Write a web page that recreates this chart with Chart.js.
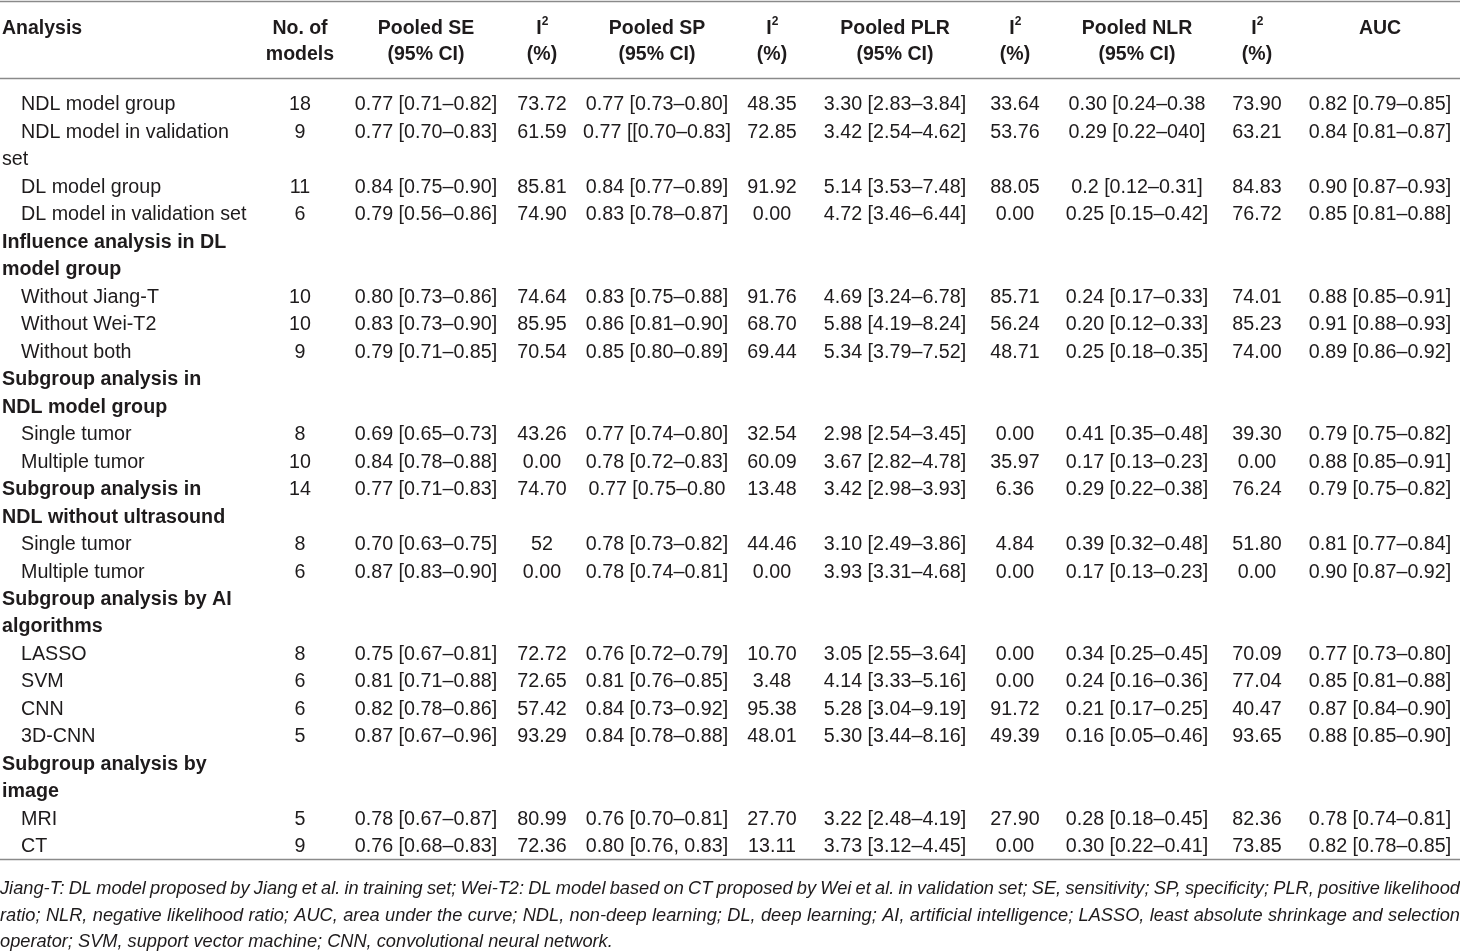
<!DOCTYPE html>
<html>
<head>
<meta charset="utf-8">
<script src="https://cdn.jsdelivr.net/npm/chart.js@4/dist/chart.umd.min.js"></script>
<style>
  html, body { margin: 0; padding: 0; background: #fff; }
  #wrap { width: 1460px; height: 951px; position: relative; }
</style>
</head>
<body>
<div id="wrap"><canvas id="myChart"></canvas></div>
<script>
// --- data ---
const headers = ['Analysis', 'No. of\nmodels', 'Pooled SE\n(95% CI)', 'I²\n(%)', 'Pooled SP\n(95% CI)', 'I²\n(%)',
  'Pooled PLR\n(95% CI)', 'I²\n(%)', 'Pooled NLR\n(95% CI)', 'I²\n(%)', 'AUC'];

// analysis column, one entry per printed line: [text, kind]  kind: 'sub' indented, 'bold' group heading, 'cont' wrapped line
const analysisLines = [
  ['NDL model group', 'sub'], ['NDL model in validation', 'sub'], ['set', 'cont'],
  ['DL model group', 'sub'], ['DL model in validation set', 'sub'],
  ['Influence analysis in DL', 'bold'], ['model group', 'bold'],
  ['Without Jiang-T', 'sub'], ['Without Wei-T2', 'sub'], ['Without both', 'sub'],
  ['Subgroup analysis in', 'bold'], ['NDL model group', 'bold'],
  ['Single tumor', 'sub'], ['Multiple tumor', 'sub'],
  ['Subgroup analysis in', 'bold'], ['NDL without ultrasound', 'bold'],
  ['Single tumor', 'sub'], ['Multiple tumor', 'sub'],
  ['Subgroup analysis by AI', 'bold'], ['algorithms', 'bold'],
  ['LASSO', 'sub'], ['SVM', 'sub'], ['CNN', 'sub'], ['3D-CNN', 'sub'],
  ['Subgroup analysis by', 'bold'], ['image', 'bold'],
  ['MRI', 'sub'], ['CT', 'sub']
];

// line on which each data row sits
const dataRowLine = [0, 1, 3, 4, 7, 8, 9, 12, 13, 14, 16, 17, 20, 21, 22, 23, 26, 27];

const nModels = ['18', '9', '11', '6', '10', '10', '9', '8', '10', '14', '8', '6', '8', '6', '6', '5', '5', '9'];
const pooledSE = ['0.77 [0.71–0.82]', '0.77 [0.70–0.83]', '0.84 [0.75–0.90]', '0.79 [0.56–0.86]', '0.80 [0.73–0.86]',
  '0.83 [0.73–0.90]', '0.79 [0.71–0.85]', '0.69 [0.65–0.73]', '0.84 [0.78–0.88]', '0.77 [0.71–0.83]', '0.70 [0.63–0.75]',
  '0.87 [0.83–0.90]', '0.75 [0.67–0.81]', '0.81 [0.71–0.88]', '0.82 [0.78–0.86]', '0.87 [0.67–0.96]', '0.78 [0.67–0.87]',
  '0.76 [0.68–0.83]'];
const i2SE = ['73.72', '61.59', '85.81', '74.90', '74.64', '85.95', '70.54', '43.26', '0.00', '74.70', '52', '0.00',
  '72.72', '72.65', '57.42', '93.29', '80.99', '72.36'];
const pooledSP = ['0.77 [0.73–0.80]', '0.77 [[0.70–0.83]', '0.84 [0.77–0.89]', '0.83 [0.78–0.87]', '0.83 [0.75–0.88]',
  '0.86 [0.81–0.90]', '0.85 [0.80–0.89]', '0.77 [0.74–0.80]', '0.78 [0.72–0.83]', '0.77 [0.75–0.80', '0.78 [0.73–0.82]',
  '0.78 [0.74–0.81]', '0.76 [0.72–0.79]', '0.81 [0.76–0.85]', '0.84 [0.73–0.92]', '0.84 [0.78–0.88]', '0.76 [0.70–0.81]',
  '0.80 [0.76, 0.83]'];
const i2SP = ['48.35', '72.85', '91.92', '0.00', '91.76', '68.70', '69.44', '32.54', '60.09', '13.48', '44.46', '0.00',
  '10.70', '3.48', '95.38', '48.01', '27.70', '13.11'];
const pooledPLR = ['3.30 [2.83–3.84]', '3.42 [2.54–4.62]', '5.14 [3.53–7.48]', '4.72 [3.46–6.44]', '4.69 [3.24–6.78]',
  '5.88 [4.19–8.24]', '5.34 [3.79–7.52]', '2.98 [2.54–3.45]', '3.67 [2.82–4.78]', '3.42 [2.98–3.93]', '3.10 [2.49–3.86]',
  '3.93 [3.31–4.68]', '3.05 [2.55–3.64]', '4.14 [3.33–5.16]', '5.28 [3.04–9.19]', '5.30 [3.44–8.16]', '3.22 [2.48–4.19]',
  '3.73 [3.12–4.45]'];
const i2PLR = ['33.64', '53.76', '88.05', '0.00', '85.71', '56.24', '48.71', '0.00', '35.97', '6.36', '4.84', '0.00',
  '0.00', '0.00', '91.72', '49.39', '27.90', '0.00'];
const pooledNLR = ['0.30 [0.24–0.38', '0.29 [0.22–040]', '0.2 [0.12–0.31]', '0.25 [0.15–0.42]', '0.24 [0.17–0.33]',
  '0.20 [0.12–0.33]', '0.25 [0.18–0.35]', '0.41 [0.35–0.48]', '0.17 [0.13–0.23]', '0.29 [0.22–0.38]', '0.39 [0.32–0.48]',
  '0.17 [0.13–0.23]', '0.34 [0.25–0.45]', '0.24 [0.16–0.36]', '0.21 [0.17–0.25]', '0.16 [0.05–0.46]', '0.28 [0.18–0.45]',
  '0.30 [0.22–0.41]'];
const i2NLR = ['73.90', '63.21', '84.83', '76.72', '74.01', '85.23', '74.00', '39.30', '0.00', '76.24', '51.80', '0.00',
  '70.09', '77.04', '40.47', '93.65', '82.36', '73.85'];
const auc = ['0.82 [0.79–0.85]', '0.84 [0.81–0.87]', '0.90 [0.87–0.93]', '0.85 [0.81–0.88]', '0.88 [0.85–0.91]',
  '0.91 [0.88–0.93]', '0.89 [0.86–0.92]', '0.79 [0.75–0.82]', '0.88 [0.85–0.91]', '0.79 [0.75–0.82]', '0.81 [0.77–0.84]',
  '0.90 [0.87–0.92]', '0.77 [0.73–0.80]', '0.85 [0.81–0.88]', '0.87 [0.84–0.90]', '0.88 [0.85–0.90]', '0.78 [0.74–0.81]',
  '0.82 [0.78–0.85]'];

const footnote = [
  'Jiang-T: DL model proposed by Jiang et al. in training set; Wei-T2: DL model based on CT proposed by Wei et al. in validation set; SE, sensitivity; SP, specificity; PLR, positive likelihood',
  'ratio; NLR, negative likelihood ratio; AUC, area under the curve; NDL, non-deep learning; DL, deep learning; AI, artificial intelligence; LASSO, least absolute shrinkage and selection',
  'operator; SVM, support vector machine; CNN, convolutional neural network.'
];

const columns = [nModels, pooledSE, i2SE, pooledSP, i2SP, pooledPLR, i2PLR, pooledNLR, i2NLR, auc];

// --- layout (x in page pixels, y in line units) ---
const colCenter = [300, 426, 542, 657, 772, 895, 1015, 1137, 1257, 1380];
const headerLineY = [-2.77, -1.82];
const ruleY = [-3.7, -0.9, 27.52];
const footLineY = [28.53, 29.5, 30.45];
const ink = '#1e1b1c';
const ruleColor = '#8a8a8a';
const REG = '"Liberation Sans", Arial, sans-serif';
const DY = 2; // glyph centring tweak

function drawText(ctx, str, x, y, opt) {
  const size = opt.size || 19.5;
  const sx = opt.sx || 1;
  ctx.font = (opt.italic ? 'italic ' : '') + (opt.bold ? 'bold ' : '') + size + 'px ' + REG;
  const w = ctx.measureText(str).width * sx;
  let left = x;
  if (opt.align === 'center') left = x - w / 2;
  else if (opt.align === 'right') left = x - w;
  ctx.save();
  ctx.translate(left, y + DY);
  ctx.scale(sx, 1);
  ctx.textAlign = 'left';
  ctx.textBaseline = 'middle';
  ctx.fillStyle = ink;
  ctx.fillText(str, 0, 0);
  ctx.restore();
  return w;
}

function drawJustified(ctx, str, x0, x1, y, opt) {
  const words = str.split(' ');
  ctx.font = 'italic ' + opt.size + 'px ' + REG;
  const total = words.reduce((s, w) => s + ctx.measureText(w).width * opt.sx, 0);
  const gap = (x1 - x0 - total) / (words.length - 1);
  let x = x0;
  words.forEach(w => {
    x += drawText(ctx, w, x, y, opt) + gap;
  });
}

const tablePlugin = {
  id: 'tableText',
  afterDatasetsDraw(chart) {
    const ctx = chart.ctx;
    const xs = chart.scales.x, ys = chart.scales.y;
    const left = xs.getPixelForValue(0), right = xs.getPixelForValue(1460);

    // rules
    ctx.save();
    ctx.strokeStyle = ruleColor;
    ctx.lineWidth = 1.6;
    ruleY.forEach(v => {
      const y = Math.round(ys.getPixelForValue(v)) + 0.5;
      ctx.beginPath(); ctx.moveTo(left, y); ctx.lineTo(right, y); ctx.stroke();
    });
    ctx.restore();

    // header
    headers.forEach((h, j) => {
      h.split('\n').forEach((p, k) => {
        const y = ys.getPixelForValue(headerLineY[k]);
        if (j === 0) { drawText(ctx, p, 2, y, { bold: true }); return; }
        const x = colCenter[j - 1];
        if (p === 'I²') {
          const w = drawText(ctx, 'I', x - 3, y, { bold: true, align: 'center' });
          drawText(ctx, '2', x - 3 + w / 2, y - 7, { bold: true, size: 12 });
        } else {
          drawText(ctx, p, x, y, { bold: true, align: 'center' });
        }
      });
    });

    // analysis column
    analysisLines.forEach((a, i) => {
      const y = ys.getPixelForValue(i);
      if (a[1] === 'bold') drawText(ctx, a[0], 2, y, { bold: true, sx: 1.01 });
      else if (a[1] === 'cont') drawText(ctx, a[0], 2, y, { sx: 1.01 });
      else drawText(ctx, a[0], 21, y, { sx: 1.01 });
    });

    // data cells, placed at the scatter points
    chart.data.datasets.forEach((ds, j) => {
      const meta = chart.getDatasetMeta(j);
      meta.data.forEach((pt, k) => {
        drawText(ctx, ds.labels[k], pt.x, pt.y, { sx: 1.01, align: 'center' });
      });
    });

    // footnote
    const fo = { italic: true, size: 18.5, sx: 0.985 };
    footnote.forEach((line, i) => {
      const y = ys.getPixelForValue(footLineY[i]);
      if (i < footnote.length - 1) drawJustified(ctx, line, 0, 1460, y, fo);
      else drawText(ctx, line, 0, y, fo);
    });
  }
};

const ctx = document.getElementById('myChart').getContext('2d');
const chart = new Chart(ctx, {
  type: 'scatter',
  data: {
    datasets: columns.map((col, j) => ({
      label: headers[j + 1],
      labels: col,
      data: col.map((v, k) => ({ x: colCenter[j], y: dataRowLine[k] })),
      pointRadius: 0,
      pointHoverRadius: 0
    }))
  },
  options: {
    responsive: true,
    maintainAspectRatio: false,
    animation: false,
    events: [],
    layout: { padding: 0 },
    plugins: { legend: { display: false }, tooltip: { enabled: false } },
    scales: {
      x: { type: 'linear', min: 0, max: 1460, display: false },
      y: { type: 'linear', min: -3.75, max: 30.86, reverse: true, display: false }
    }
  },
  plugins: [tablePlugin]
});
</script>
</body>
</html>
